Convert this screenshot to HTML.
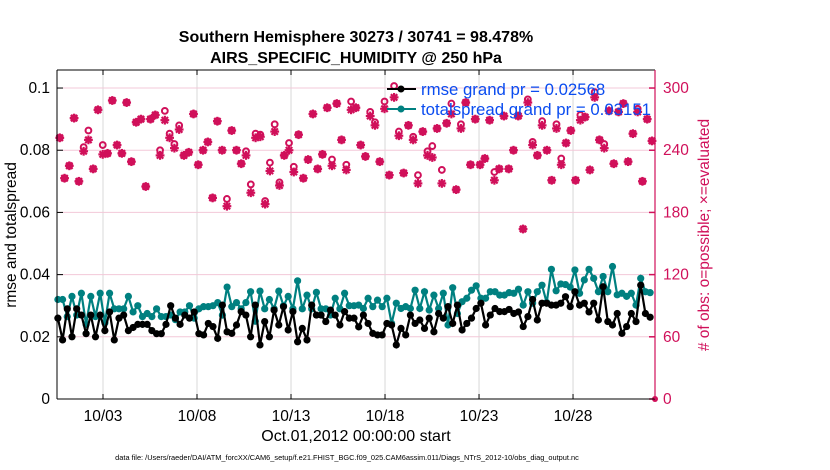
<!DOCTYPE html>
<html><head><meta charset="utf-8"><style>
body{margin:0;background:#fff;}
svg{display:block;font-family:"Liberation Sans",sans-serif;}
</style></head><body>
<svg id="chart" width="830" height="470">
<text x="356" y="42" text-anchor="middle" font-size="16" font-weight="bold">Southern Hemisphere 30273 / 30741 = 98.478%</text>
<text x="356" y="63" text-anchor="middle" font-size="16" font-weight="bold">AIRS_SPECIFIC_HUMIDITY @ 250 hPa</text>
<g id="grid"></g>
<g id="scatter"></g>
<g id="lines"></g>
<g id="axes"></g>
<g>
<line x1="387" y1="89" x2="416" y2="89" stroke="#000" stroke-width="2"/><circle cx="401" cy="89" r="3.5" fill="#000"/>
<text x="421" y="95" font-size="16.8" fill="#0a4cf0">rmse grand pr = 0.02568</text>
<line x1="387" y1="109" x2="416" y2="109" stroke="#008080" stroke-width="2"/><circle cx="401" cy="109" r="3.5" fill="#008080"/>
<text x="421" y="115" font-size="16.8" fill="#0a4cf0">totalspread grand pr = 0.03151</text>
</g>
<text transform="translate(16,235) rotate(-90)" text-anchor="middle" font-size="15.5">rmse and totalspread</text>
<text transform="translate(709,235) rotate(-90)" text-anchor="middle" font-size="15.5" fill="#d0105a"># of obs: o=possible; ×=evaluated</text>
<text x="356" y="441" text-anchor="middle" font-size="16">Oct.01,2012 00:00:00 start</text>
<text x="347" y="460" text-anchor="middle" font-size="7.4">data file: /Users/raeder/DAI/ATM_forcXX/CAM6_setup/f.e21.FHIST_BGC.f09_025.CAM6assim.011/Diags_NTrS_2012-10/obs_diag_output.nc</text>
</svg>
<script>
const xTickDays=[3,8,13,18,23,28];
const xTickLabels=["10/03","10/08","10/13","10/18","10/23","10/28"];
const yTickVals=[0,0.02,0.04,0.06,0.08,0.1];
const yTickLabels=["0","0.02","0.04","0.06","0.08","0.1"];
const rTickVals=[0,60,120,180,240,300];
const rmseVals=[0.026,0.019,0.029,0.020,0.029,0.027,0.021,0.027,0.020,0.027,0.022,0.028,0.019,0.026,0.027,0.022,0.023,0.024,0.024,0.024,0.022,0.021,0.021,0.024,0.030,0.026,0.024,0.027,0.026,0.028,0.021,
0.0206,0.0243,0.0233,0.0195,0.0302,0.0216,0.0211,0.0238,0.0281,0.027,0.020,0.0302,0.0174,0.0249,0.020,0.0286,0.0238,0.0297,0.0222,0.0281,0.0184,0.0227,0.019,0.0302,0.027,0.027,0.0249,0.0286,0.027,0.0238,0.0281,0.026,0.026,
0.0232,0.027,0.0243,0.0211,0.0206,0.0206,0.0243,0.0238,0.0174,0.0227,0.0206,0.027,0.0243,0.0254,0.0227,0.026,0.0216,0.0275,0.026,0.0297,0.0243,0.0302,0.0222,0.0243,0.026,0.0291,0.0308,0.0238,0.027,0.0291,0.0281,0.0281,
0.0288,0.0275,0.028,0.0233,0.0265,0.032,0.0254,0.0308,0.0308,0.0302,0.0302,0.0308,0.0329,0.0297,0.0345,0.0302,0.0308,0.028,0.0308,0.0254,0.0361,0.0249,0.0238,0.0275,0.0211,0.0233,0.0275,0.0249,0.0366,0.0275,0.0263];
const spreadVals=[0.032,0.032,0.0265,0.033,0.027,0.034,0.024,0.033,0.0265,0.034,0.0245,0.034,0.029,0.029,0.029,0.033,0.028,0.030,0.0265,0.0275,0.0265,0.029,0.0265,0.0265,0.027,0.0255,0.028,0.028,0.030,0.026,0.029,
0.0297,0.0297,0.030,0.031,0.027,0.036,0.0297,0.031,0.029,0.031,0.0345,0.025,0.0347,0.029,0.032,0.029,0.0347,0.030,0.033,0.029,0.038,0.029,0.0334,0.029,0.0343,0.029,0.029,0.027,0.0324,0.029,0.034,0.030,0.030,
0.0302,0.0291,0.0324,0.0297,0.0318,0.0297,0.0324,0.0243,0.0308,0.0291,0.0297,0.0291,0.035,0.0291,0.0345,0.0286,0.0334,0.0291,0.034,0.0238,0.0358,0.0275,0.0313,0.0324,0.035,0.0364,0.0324,0.0324,0.0345,0.0345,0.0334,0.0334,
0.0342,0.034,0.0353,0.0302,0.0345,0.0308,0.0345,0.0366,0.031,0.0417,0.0348,0.037,0.0368,0.036,0.0415,0.034,0.0383,0.0417,0.0388,0.0345,0.0394,0.0345,0.0426,0.0335,0.034,0.033,0.034,0.0302,0.0388,0.0345,0.0342];
const evalCounts=[252,213,225,271,210,239,250,222,279,236,237,288,245,237,286,229,267,270,205,270,274,235,269,252,242,260,235,238,275,226,240,248,194,268,240,186,259,240,227,235,199,252,253,188,220,258,206,235,240,219,255,213,231,275,222,236,281,225,285,250,221,279,
281,245,234,273,264,229,280,216,291,254,218,264,250,208,258,235,233,261,208,266,275,202,261,286,226,270,226,232,269,211,222,273,222,240,273,164,286,245,235,264,240,211,261,226,247,259,211,269,272,221,291,250,242,278,227,277,285,229,256,277,210,270,249];
const possibleExtra=[0,0,0,0,0,4,9,0,0,9,0,0,0,0,0,0,0,0,0,0,0,5,9,4,4,4,0,0,0,0,0,0,0,0,0,7,0,0,0,4,8,4,2,3,8,7,3,0,7,5,0,0,0,0,0,0,0,6,0,0,5,8,
0,0,0,4,3,0,7,0,11,4,0,0,3,8,0,4,11,0,13,0,10,0,4,0,0,0,0,0,0,8,0,0,0,0,0,0,3,3,0,4,0,0,4,6,0,0,0,5,0,0,5,0,4,0,0,0,0,0,0,3,0,0,0];
const X0=57,X1=655,Y0=399,Y1=70;
const dMin=0.553,dMax=32.36,lMax=0.1058,rMax=317.4;
function xs(d){return X0+(d-dMin)/(dMax-dMin)*(X1-X0);}
function yl(v){return Y0-v/lMax*(Y0-Y1);}
function yr(v){return Y0-v/rMax*(Y0-Y1);}
const NS="http://www.w3.org/2000/svg";
function mk(tag,attrs,parent){const e=document.createElementNS(NS,tag);for(const k in attrs)e.setAttribute(k,attrs[k]);parent.appendChild(e);return e;}
const grid=document.getElementById('grid'),axes=document.getElementById('axes'),sc=document.getElementById('scatter'),ln=document.getElementById('lines');
const pink="#d0105a";
xTickDays.forEach((d,i)=>{
 const g=mk('line',{x1:xs(d),x2:xs(d),y1:Y1,y2:Y0,stroke:'#d8d8d8','stroke-width':1},grid);
 
 
 const t=mk('text',{x:xs(d),y:421,'text-anchor':'middle','font-size':15.5},axes);
 t.textContent=xTickLabels[i];
 
 
 mk('line',{x1:xs(d),x2:xs(d),y1:Y0,y2:Y0-5,stroke:'#000'},axes);
 mk('line',{x1:xs(d),x2:xs(d),y1:Y1,y2:Y1+5,stroke:'#000'},axes);
});
yTickVals.forEach((v,i)=>{
 if(v>0){const g=mk('line',{x1:X0,x2:X1,y1:yl(v),y2:yl(v),stroke:'#f3c8d8','stroke-width':1},grid);
 
 }
 const t=mk('text',{x:50,y:yl(v)+5,'text-anchor':'end','font-size':15.5},axes);
 t.textContent=yTickLabels[i];
 
 
 mk('line',{x1:X0,x2:X0+6,y1:yl(v),y2:yl(v),stroke:'#000'},axes);
});
rTickVals.forEach(v=>{
 const t=mk('text',{x:663,y:yr(v)+5,'font-size':15.5,fill:pink},axes);
 t.textContent=String(v);
 
 
 mk('line',{x1:X1-6,x2:X1,y1:yr(v),y2:yr(v),stroke:pink,'stroke-width':1.5},axes);
});
mk('line',{x1:X0,x2:X1,y1:Y1,y2:Y1,stroke:'#000'},axes);
mk('line',{x1:X0,x2:X1,y1:Y0,y2:Y0,stroke:'#000'},axes);
mk('line',{x1:X0,x2:X0,y1:Y1,y2:Y0,stroke:'#000'},axes);
mk('line',{x1:X1,x2:X1,y1:Y1,y2:Y0,stroke:pink,'stroke-width':1.2},axes);
const sStart=0.7,sEnd=32.2;
evalCounts.forEach((c,i)=>{
 const d=sStart+i*(sEnd-sStart)/(evalCounts.length-1);
 const x=xs(d),y=yr(c),yp=yr(c+possibleExtra[i]);
 const g=mk('g',{stroke:pink,'stroke-width':2.2},sc);
 
 
 const r=4.4;
 mk('line',{x1:x-r,x2:x+r,y1:y,y2:y},g);
 mk('line',{x1:x,x2:x,y1:y-r,y2:y+r},g);
 mk('line',{x1:x-3.2,x2:x+3.2,y1:y-3.2,y2:y+3.2},g);
 mk('line',{x1:x-3.2,x2:x+3.2,y1:y+3.2,y2:y-3.2},g);
 mk('circle',{cx:x,cy:yp,r:2.9,fill:'none','stroke-width':2},g);
});
mk('circle',{cx:X1,cy:Y0,r:3,fill:pink},sc);
const lStart=0.6,lStep=0.25;
function series(vals,color,name){
 const pts=vals.map((v,i)=>[xs(lStart+i*lStep),yl(v)]);
 const p=mk('polyline',{points:pts.map(p=>p.join(',')).join(' '),fill:'none',stroke:color,'stroke-width':2.2},ln);
 
 
 pts.forEach(q=>{const c=mk('circle',{cx:q[0],cy:q[1],r:3.6,fill:color},ln);
 
 });
}
series(spreadVals,'#008080','totalspread');
series(rmseVals,'#000000','rmse');
</script>
</body></html>
